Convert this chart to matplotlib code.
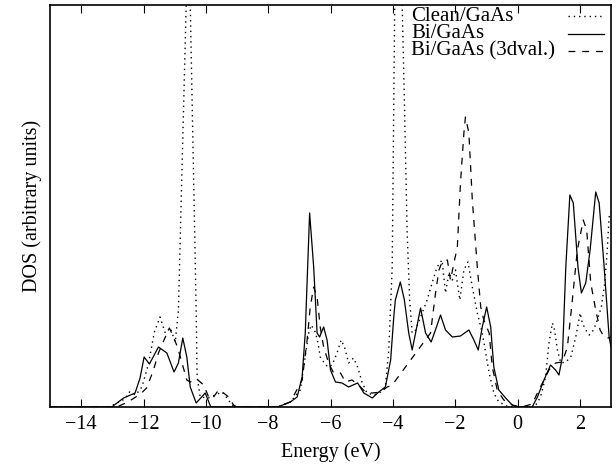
import matplotlib
matplotlib.use('Agg')
from matplotlib import pyplot
import matplotlib.ticker as ticker

# Clean/GaAs (dotted)
clean_e = [-15, -13.1, -12.6, -12.45, -12.25, -12.05, -11.85, -11.65, -11.47, -11.30,
           -11.14, -10.98, -10.88, -10.63, -10.565, -10.50, -10.31, -10.28, -10.18, -9.92,
           -9.70, -9.48, -9.32, -9.16, -9.0, -7.7, -7.29, -6.97, -6.86, -6.70,
           -6.62, -6.49, -6.40, -6.33, -6.22, -6.09, -5.95, -5.79, -5.66, -5.55,
           -5.42, -5.26, -5.13, -4.99, -4.83, -4.61, -4.39, -4.24, -4.13, -4.02,
           -3.94, -3.82, -3.70, -3.63, -3.54, -3.46, -3.38, -3.27, -3.11, -2.90,
           -2.74, -2.58, -2.42, -2.31, -2.20, -2.09, -1.99, -1.85, -1.72, -1.59,
           -1.45, -1.29, -1.13, -1.02, -0.91, -0.76, -0.60, -0.40, -0.3, 0.55,
           0.74, 0.90, 1.01, 1.12, 1.19, 1.28, 1.39, 1.55, 1.71, 1.87,
           2.01, 2.08, 2.19, 2.30, 2.44, 2.56, 2.69, 2.80, 2.88, 2.94, 3.0]
clean_dos = [0, 0, 8, 15, 12, 20, 42, 75, 90, 74,
             79, 65, 97, 402, 440, 402, 97, 30, 10, 9,
             12, 15, 9, 2, 0, 0, 5, 17, 40, 74,
             82, 75, 64, 50, 45, 40, 42, 54, 67, 60,
             44, 49, 40, 25, 14, 12, 15, 20, 57, 140,
             402, 440, 402, 307, 174, 107, 74, 77, 90, 107,
             124, 140, 147, 114, 134, 127, 137, 107, 137, 145,
             120, 94, 74, 54, 34, 14, 5, 2, 0, 0,
             10, 30, 64, 84, 77, 57, 44, 45, 50, 70,
             94, 84, 77, 72, 77, 87, 100, 124, 157, 190, 195]

# Bi/GaAs (solid)
bi_e = [-15, -13.02, -12.64, -12.27, -12.11, -11.98, -11.81, -11.52, -11.25, -11.02,
        -10.88, -10.74, -10.61, -10.50, -10.31, -10.02, -9.84, -7.7, -7.29, -7.07,
        -6.91, -6.81, -6.67, -6.54, -6.43, -6.35, -6.22, -6.11, -6.0, -5.84,
        -5.63, -5.42, -5.13, -4.93, -4.66, -4.45, -4.24, -4.07, -3.97, -3.92,
        -3.76, -3.63, -3.49, -3.38, -3.27, -3.11, -2.95, -2.77, -2.60, -2.47,
        -2.31, -2.09, -1.83, -1.56, -1.40, -1.26, -1.13, -0.99, -0.86, -0.76,
        -0.60, -0.38, -0.17, 0.0, 0.47, 0.64, 0.85, 1.06, 1.22, 1.33,
        1.44, 1.55, 1.68, 1.79, 1.94, 2.05, 2.19, 2.33, 2.51, 2.62,
        2.78, 2.94, 3.0]
bi_dos = [0, 0, 9, 14, 29, 50, 43, 60, 54, 35,
          44, 69, 50, 20, 4, 14, 0, 0, 5, 10,
          30, 74, 194, 140, 74, 70, 80, 67, 37, 25,
          24, 20, 24, 14, 9, 15, 20, 47, 90, 107,
          125, 107, 74, 57, 74, 99, 74, 65, 80, 92,
          77, 70, 71, 77, 67, 57, 80, 100, 80, 40,
          17, 9, 2, 0, 0, 10, 27, 42, 37, 32,
          50, 140, 212, 204, 140, 114, 124, 157, 215, 204,
          140, 70, 60]

# Bi/GaAs (3dval.) (dashed)
bi3d_e = [-15, -12.86, -12.5, -12.1, -11.9, -11.68, -11.52, -11.30, -11.17, -11.04,
          -10.91, -10.61, -10.50, -10.29, -10.07, -9.91, -9.80, -9.59, -9.43, -9.27,
          -9.11, -9.0, -7.7, -7.29, -6.91, -6.75, -6.65, -6.54, -6.43, -6.33,
          -6.22, -6.06, -5.90, -5.68, -5.52, -5.31, -5.10, -4.88, -4.66, -4.39,
          -4.18, -4.02, -2.79, -2.63, -2.52, -2.42, -2.25, -2.15, -2.02, -1.93,
          -1.83, -1.72, -1.67, -1.56, -1.45, -1.29, -1.18, -1.08, -0.91, -0.81,
          -0.65, -0.44, -0.17, 0.13, 0.47, 0.64, 0.80, 1.01, 1.22, 1.44,
          1.60, 1.76, 1.92, 2.11, 2.22, 2.35, 2.51, 2.65, 2.78, 2.91, 3.0]
bi3d_dos = [0, 0, 5, 13, 19, 37, 54, 70, 79, 70,
            60, 27, 25, 28, 22, 10, 8, 17, 14, 10,
            2, 0, 0, 5, 27, 67, 100, 120, 110, 80,
            60, 44, 34, 34, 25, 27, 22, 15, 14, 15,
            20, 22, 74, 114, 137, 145, 147, 127, 147, 160,
            224, 274, 290, 274, 207, 140, 100, 87, 74, 40,
            17, 7, 2, 0, 3, 14, 24, 37, 44, 45,
            60, 107, 157, 187, 177, 124, 97, 77, 70, 69, 70]

labels = ['Clean/GaAs', 'Bi/GaAs', 'Bi/GaAs (3dval.)']

pyplot.rcParams['font.family'] = ['Liberation Serif', 'DejaVu Serif']
pyplot.rcParams['font.size'] = 14.5

fig = pyplot.figure(figsize=(6.16, 4.68), dpi=100)
ax = fig.add_axes([50/616, 1-407/468, 561/616, 402/468])

styles = [dict(linewidth=1.0, linestyle=(0, (1, 2.8))),
          dict(linewidth=0.9, linestyle='-'),
          dict(linewidth=0.9, linestyle=(0, (5.5, 5.5)))]
series = [(clean_e, clean_dos), (bi_e, bi_dos), (bi3d_e, bi3d_dos)]

for (e, d), st, lab in zip(series, styles, labels):
    ax.plot(e, d, color='black', **st)

# gnuplot-like key: left aligned text, sample line on the right
for i, (st, lab) in enumerate(zip(styles, labels)):
    yk = 0.9726 - i * 0.0435
    ax.text(0.6435, yk, lab, transform=ax.transAxes, ha='left', va='center', fontsize=15)
    ax.plot([0.923, 0.9875], [yk, yk], transform=ax.transAxes, color='black', **st)

ax.set_xlim(-15, 3)
ax.set_ylim(0, 402)
ax.xaxis.set_major_locator(ticker.MultipleLocator(2))
ax.tick_params(axis='x', direction='in', top=True, length=5.5, width=0.8, pad=5.5)
ax.tick_params(axis='y', left=False, labelleft=False)
for s in ax.spines.values():
    s.set_linewidth(1.2)

ax.set_xlabel('Energy (eV)', labelpad=6)
ax.set_ylabel('DOS (arbitrary units)', labelpad=6)

fig.savefig('out.png')
